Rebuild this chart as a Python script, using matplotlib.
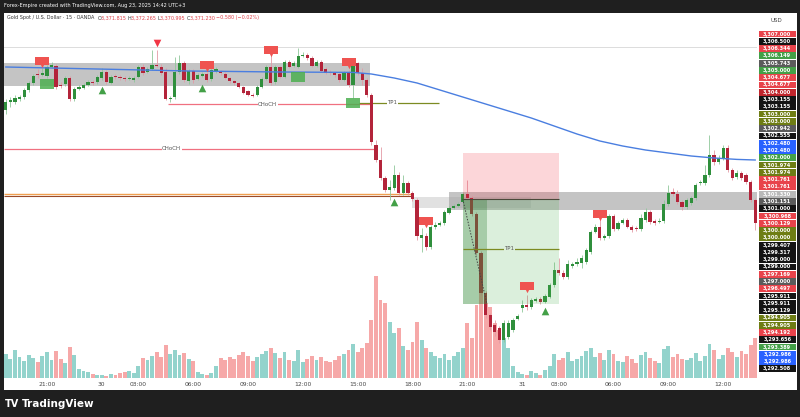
import matplotlib
matplotlib.use("Agg")
import matplotlib.pyplot as plt
from matplotlib.patches import Rectangle
import numpy as np

# ---- 15 min candles (XAUUSD) ----
opens = [
    3303.50, 3303.90, 3303.90, 3304.05, 3304.15, 3304.50, 3304.85, 3305.30, 3305.25, 3305.20,
    3305.65, 3305.70, 3304.75, 3304.80, 3305.10, 3304.05, 3304.55, 3304.60, 3304.75, 3304.90,
    3304.90, 3305.10, 3305.40, 3304.85, 3305.20, 3305.15, 3305.10, 3305.05, 3305.00, 3305.15,
    3305.65, 3305.40, 3305.55, 3305.75, 3305.65, 3305.40, 3304.05, 3304.15, 3305.40, 3305.85,
    3304.95, 3305.45, 3305.05, 3305.20, 3305.30, 3305.05, 3305.45, 3305.45, 3305.30, 3305.10,
    3304.95, 3304.85, 3304.65, 3304.45, 3304.25, 3304.25, 3304.65, 3305.05, 3305.65, 3304.90,
    3305.65, 3305.15, 3305.90, 3305.70, 3305.65, 3306.20, 3306.25, 3306.10, 3305.70, 3305.90,
    3305.55, 3305.40, 3305.35, 3305.30, 3305.00, 3305.40, 3304.75, 3305.85, 3305.35, 3305.00,
    3304.25, 3301.75, 3301.00, 3300.10, 3299.50, 3299.60, 3300.25, 3299.35, 3299.85, 3299.35,
    3299.00, 3297.10, 3297.20, 3296.65, 3297.65, 3297.75, 3297.85, 3298.35, 3298.60, 3298.70,
    3298.90, 3299.30, 3299.10, 3298.30, 3296.35, 3294.35, 3293.25, 3292.75, 3292.60, 3292.00,
    3292.15, 3292.50, 3293.05, 3293.60, 3293.75, 3293.65, 3293.95, 3294.05, 3293.90, 3294.15,
    3294.75, 3295.50, 3295.35, 3295.15, 3295.70, 3295.80, 3295.85, 3295.90, 3296.40, 3297.40,
    3297.65, 3297.10, 3297.20, 3298.20, 3297.55, 3297.85, 3298.00, 3297.65, 3297.60, 3297.55,
    3298.00, 3298.40, 3297.95, 3297.90, 3297.95, 3298.80, 3299.40, 3299.30, 3298.90, 3298.65,
    3298.85, 3299.10, 3299.85, 3299.85, 3300.25, 3301.25, 3300.90, 3301.10, 3301.60, 3300.50,
    3300.15, 3300.35, 3300.25, 3299.90, 3299.00,
]
highs = [
    3304.05, 3304.15, 3304.25, 3304.25, 3304.60, 3304.95, 3305.30, 3305.55, 3305.60, 3305.75,
    3305.90, 3305.80, 3304.90, 3305.20, 3305.20, 3304.65, 3304.75, 3304.85, 3305.00, 3305.00,
    3305.25, 3305.60, 3305.50, 3305.25, 3305.30, 3305.25, 3305.20, 3305.20, 3305.20, 3305.75,
    3305.80, 3305.65, 3306.50, 3306.50, 3305.80, 3305.60, 3304.20, 3306.15, 3306.25, 3305.95,
    3305.55, 3305.55, 3305.35, 3305.40, 3305.40, 3305.60, 3305.65, 3305.50, 3305.40, 3305.15,
    3305.00, 3304.90, 3304.70, 3304.50, 3304.35, 3304.75, 3305.15, 3305.75, 3306.35, 3305.75,
    3305.70, 3306.00, 3306.00, 3305.95, 3306.60, 3306.40, 3306.35, 3306.20, 3306.00, 3306.00,
    3305.65, 3305.50, 3305.40, 3305.40, 3305.45, 3305.50, 3306.00, 3305.90, 3305.60, 3305.10,
    3304.35, 3302.00, 3301.65, 3300.20, 3300.00, 3300.75, 3300.40, 3300.25, 3299.95, 3299.45,
    3299.10, 3297.60, 3297.35, 3297.75, 3297.90, 3297.95, 3298.50, 3298.70, 3298.80, 3298.90,
    3299.40, 3300.00, 3299.20, 3298.40, 3296.45, 3294.45, 3293.35, 3293.00, 3292.70, 3293.00,
    3293.00, 3293.10, 3293.30, 3294.00, 3294.25, 3294.10, 3294.15, 3294.15, 3294.30, 3294.85,
    3295.90, 3296.10, 3295.50, 3296.00, 3295.90, 3296.10, 3296.25, 3296.60, 3297.50, 3297.80,
    3298.10, 3297.30, 3298.30, 3298.30, 3297.95, 3298.10, 3298.10, 3297.75, 3297.70, 3298.30,
    3298.60, 3298.50, 3298.05, 3298.10, 3299.00, 3299.75, 3299.60, 3299.50, 3299.00, 3299.10,
    3299.20, 3299.85, 3300.00, 3300.75, 3302.25, 3301.50, 3301.25, 3301.75, 3301.75, 3300.60,
    3300.50, 3300.45, 3300.35, 3300.00, 3299.10,
]
lows = [
    3303.30, 3303.65, 3303.80, 3303.95, 3304.05, 3304.40, 3304.75, 3305.10, 3305.20, 3305.10,
    3305.60, 3304.55, 3304.60, 3304.70, 3303.95, 3303.95, 3304.50, 3304.55, 3304.70, 3304.75,
    3304.80, 3305.00, 3304.80, 3304.80, 3305.05, 3305.00, 3304.95, 3305.00, 3304.90, 3305.10,
    3305.25, 3305.35, 3305.50, 3305.65, 3305.25, 3304.00, 3303.90, 3304.05, 3305.30, 3304.90,
    3304.80, 3304.85, 3305.00, 3305.15, 3304.90, 3304.95, 3305.35, 3305.25, 3305.05, 3304.85,
    3304.75, 3304.60, 3304.30, 3304.20, 3304.15, 3304.20, 3304.60, 3305.00, 3304.75, 3304.80,
    3305.10, 3305.10, 3305.60, 3305.65, 3305.60, 3306.15, 3306.00, 3305.65, 3305.65, 3305.40,
    3305.30, 3305.25, 3305.15, 3304.90, 3304.95, 3304.65, 3304.10, 3305.25, 3304.75, 3304.15,
    3301.75, 3300.90, 3300.00, 3299.40, 3299.00, 3299.50, 3299.25, 3299.25, 3299.25, 3298.95,
    3297.00, 3296.40, 3296.50, 3296.55, 3297.55, 3297.70, 3297.75, 3298.30, 3298.55, 3298.65,
    3298.85, 3299.00, 3298.20, 3296.25, 3294.25, 3293.10, 3292.50, 3292.20, 3291.85, 3291.90,
    3292.05, 3292.40, 3293.00, 3293.40, 3293.50, 3293.55, 3293.90, 3293.80, 3293.85, 3294.10,
    3294.65, 3295.25, 3295.05, 3295.05, 3295.60, 3295.70, 3295.60, 3295.80, 3296.30, 3297.35,
    3297.00, 3297.00, 3297.10, 3297.45, 3297.50, 3297.80, 3297.60, 3297.40, 3297.45, 3297.45,
    3297.90, 3297.80, 3297.75, 3297.85, 3297.85, 3298.70, 3299.20, 3298.80, 3298.50, 3298.55,
    3298.75, 3299.00, 3299.75, 3299.75, 3300.15, 3300.75, 3300.80, 3301.00, 3300.40, 3300.00,
    3300.05, 3300.00, 3299.80, 3298.90, 3297.50,
]
closes = [
    3303.90, 3304.00, 3304.10, 3304.15, 3304.50, 3304.85, 3305.20, 3305.25, 3305.35, 3305.65,
    3305.75, 3304.65, 3304.70, 3305.10, 3304.05, 3304.55, 3304.65, 3304.75, 3304.90, 3304.85,
    3305.15, 3305.40, 3304.90, 3305.15, 3305.15, 3305.10, 3305.05, 3305.10, 3305.10, 3305.65,
    3305.35, 3305.55, 3305.75, 3305.70, 3305.35, 3304.05, 3304.10, 3305.40, 3305.85, 3305.00,
    3305.45, 3305.00, 3305.25, 3305.30, 3305.00, 3305.50, 3305.55, 3305.35, 3305.10, 3304.95,
    3304.85, 3304.65, 3304.35, 3304.25, 3304.20, 3304.65, 3305.05, 3305.65, 3304.85, 3305.65,
    3305.15, 3305.90, 3305.65, 3305.85, 3306.20, 3306.25, 3306.10, 3305.70, 3305.90, 3305.45,
    3305.35, 3305.35, 3305.25, 3305.00, 3305.35, 3304.75, 3305.85, 3305.35, 3305.00, 3304.25,
    3301.90, 3301.00, 3300.10, 3299.50, 3299.65, 3300.25, 3299.35, 3299.85, 3299.35, 3299.05,
    3297.20, 3297.25, 3296.65, 3297.65, 3297.75, 3297.85, 3298.40, 3298.60, 3298.70, 3298.80,
    3299.30, 3299.10, 3298.30, 3296.35, 3294.35, 3293.25, 3292.65, 3292.40, 3292.00, 3292.85,
    3292.85, 3293.00, 3293.20, 3293.75, 3293.65, 3294.00, 3294.05, 3293.90, 3294.20, 3294.75,
    3295.50, 3295.35, 3295.15, 3295.80, 3295.80, 3295.90, 3296.10, 3296.50, 3297.40, 3297.65,
    3297.10, 3297.20, 3298.20, 3297.55, 3297.85, 3298.00, 3297.65, 3297.50, 3297.55, 3298.10,
    3298.40, 3297.90, 3297.85, 3297.95, 3298.80, 3299.35, 3299.30, 3298.90, 3298.65, 3299.00,
    3299.10, 3299.75, 3299.90, 3300.25, 3301.25, 3300.90, 3301.10, 3301.60, 3300.50, 3300.10,
    3300.35, 3300.10, 3299.90, 3299.00, 3297.85,
]
volumes = [
    24, 19, 28, 21, 17, 23, 20, 16, 22, 26,
    18, 27, 19, 15, 31, 23, 9, 7, 6, 4,
    3, 3, 2, 4, 3, 5, 6, 7, 5, 12,
    20, 18, 22, 26, 21, 33, 24, 28, 23, 25,
    19, 17, 6, 4, 3, 5, 12, 20, 18, 21,
    19, 23, 26, 22, 17, 21, 24, 27, 30, 25,
    20, 26, 18, 17, 28, 16, 19, 22, 18, 21,
    17, 16, 18, 22, 24, 28, 34, 26, 30, 35,
    58, 102, 78, 75, 56, 45, 50, 32, 28, 36,
    56, 38, 30, 26, 22, 20, 24, 18, 22, 26,
    30, 55, 40, 73, 85, 75, 71, 55, 48, 40,
    30, 12, 6, 4, 3, 7, 5, 3, 8, 12,
    24, 18, 20, 26, 17, 19, 22, 27, 30, 21,
    25, 18, 28, 24, 17, 16, 22, 19, 15, 23,
    26, 20, 17, 15, 29, 32, 21, 24, 19, 18,
    20, 25, 17, 22, 34, 28, 19, 23, 30, 26,
    21, 27, 24, 33, 40,
]

# moving average read at a few bars
ema_bars = [0, 20, 40, 60, 76, 80, 85, 90, 95, 100, 105, 110, 115, 120,
            125, 130, 135, 140, 145, 150, 155, 160, 164]
ema_vals = [3305.65, 3305.55, 3305.45, 3305.40, 3305.38, 3305.30, 3305.10, 3304.85,
            3304.50, 3304.15, 3303.80, 3303.45, 3303.10, 3302.70, 3302.30, 3301.95,
            3301.70, 3301.50, 3301.35, 3301.20, 3301.10, 3301.03, 3301.00]

tick_bars = [9, 21, 29, 41, 53, 65, 77, 89, 101, 113, 121, 133, 145, 157]
tick_labels = ["21:00", "30", "03:00", "06:00", "09:00", "12:00", "15:00",
               "18:00", "21:00", "31", "03:00", "06:00", "09:00", "12:00"]

# signals
sell_bars = [8, 44, 58, 75, 92, 114, 130]
sell_prices = [3305.95, 3305.75, 3306.50, 3305.90, 3297.95, 3294.70, 3298.30]
buy_bars = [9, 64, 76]
buy_prices = [3304.80, 3305.15, 3303.85]
up_bars = [21, 43, 85, 118]
up_prices = [3304.50, 3304.60, 3298.90, 3293.45]
down_bars = [33]
down_prices = [3306.85]

# right scale labels (stacked as in the screenshot)
R, K, G, D, O, B, DR, L = ("#e8434b", "#141414", "#43a047", "#5b5b5b",
                           "#6e7d14", "#2962ff", "#c0262d", "#b9b9b9")
scale_labels = [
    ("3,307.000", R), ("3,306.500", K), ("3,306.344", R), ("3,306.149", G),
    ("3,305.743", D), ("3,305.000", G), ("3,304.677", R), ("3,304.677", R),
    ("3,304.000", DR), ("3,303.155", K), ("3,303.155", K), ("3,303.000", O),
    ("3,303.000", O), ("3,302.942", D), ("3,302.555", K), ("3,302.480", B),
    ("3,302.480", B), ("3,302.000", G), ("3,301.974", O), ("3,301.974", O),
    ("3,301.761", R), ("3,301.761", R), ("3,301.330", L), ("3,301.151", D),
    ("3,301.000", K), ("3,300.968", R), ("3,300.129", R), ("3,300.000", O),
    ("3,300.000", O), ("3,299.407", K), ("3,299.317", K), ("3,299.000", K),
    ("3,299.000", K), ("3,297.169", R), ("3,297.000", D), ("3,296.497", R),
    ("3,295.911", K), ("3,295.911", K), ("3,295.129", K), ("3,294.905", O),
    ("3,294.905", O), ("3,294.192", R), ("3,293.656", K), ("3,293.389", G),
    ("3,292.986", B), ("3,292.986", B), ("3,292.508", K),
]

# legend pieces: (text, colour)
legend_parts = [
    ("Gold Spot / U.S. Dollar · 15 · OANDA  ", "#333333"),
    ("O", "#333333"), ("3,371.815 ", "#e0434b"),
    ("H", "#333333"), ("3,372.265 ", "#e0434b"),
    ("L", "#333333"), ("3,370.995 ", "#e0434b"),
    ("C", "#333333"), ("3,371.230 ", "#e0434b"),
    ("−0.580 (−0.02%)", "#e0434b"),
]

UP, DOWN = "#2f8f3c", "#b3243a"
UP_WICK, DOWN_WICK = "#8fc79a", "#e39aa5"
VOL_UP, VOL_DOWN = "#93d3cc", "#f6a8a8"
W, H = 800, 417


def fx(x):
    return x / W


def fy(y):
    return 1 - y / H


fig = plt.figure(figsize=(8, 4.17), dpi=100, facecolor="#1f1f1f")
fig.patches.append(Rectangle((fx(4), fy(390)), fx(793), 377 / H,
                             transform=fig.transFigure, facecolor="white",
                             edgecolor="none", zorder=0))

pos = [fx(4), fy(378), fx(753), 365 / H]
vax = fig.add_axes(pos, zorder=1)
ax = fig.add_axes(pos, zorder=2)
for a in (vax, ax):
    a.patch.set_alpha(0)
    for s in a.spines.values():
        s.set_visible(False)

x = np.arange(len(closes))
o = np.array(opens)
c = np.array(closes)
h = np.array(highs)
l = np.array(lows)
up = c >= o

# volume
vax.bar(x, volumes, width=0.85, color=np.where(up, VOL_UP, VOL_DOWN), linewidth=0)
vax.set_ylim(0, 365)
vax.set_xlim(-0.4, 164.4)
vax.axis("off")

# zones behind candles
ax.add_patch(Rectangle((-0.4, 3304.70), 80.0, 1.15, facecolor="#9e9e9e",
                       alpha=0.6, edgecolor="none", zorder=1))
ax.add_patch(Rectangle((97.1, 3298.50), 67.3, 0.90, facecolor="#9e9e9e",
                       alpha=0.6, edgecolor="none", zorder=1))
ax.add_patch(Rectangle((88.8, 3298.60), 26.2, 0.55, facecolor="#9e9e9e",
                       alpha=0.3, edgecolor="none", zorder=1))

# horizontal levels
ax.axhline(3306.65, color="#dcdcdc", lw=0.7, zorder=1)
ax.hlines(3303.80, 35.5, 80, color="#f07080", lw=0.9, zorder=2)
ax.text(57.3, 3303.80, "CHoCH", fontsize=4, color="#555555", ha="center",
        va="center", zorder=6,
        bbox=dict(facecolor="white", edgecolor="none", pad=0.4))
ax.hlines(3303.85, 77.4, 94.9, color="#7c8b22", lw=0.9, zorder=2)
ax.text(84.6, 3303.85, "TP1", fontsize=4, color="#555555", ha="center",
        va="center", zorder=6,
        bbox=dict(facecolor="white", edgecolor="none", pad=0.4))
ax.hlines(3301.55, -0.4, 80.7, color="#f07080", lw=0.9, zorder=2)
ax.text(36.3, 3301.55, "CHoCH", fontsize=4, color="#555555", ha="center",
        va="center", zorder=6,
        bbox=dict(facecolor="white", edgecolor="none", pad=0.4))
ax.hlines(3299.29, -0.4, 89, color="#f0a050", lw=1.0, zorder=2)
ax.hlines(3299.20, -0.4, 89, color="#9a4a2a", lw=0.8, zorder=2)

# candles
ax.vlines(x, l, h, colors=np.where(up, UP_WICK, DOWN_WICK), lw=0.6, zorder=3)
ax.bar(x, np.maximum(np.abs(c - o), 0.03), bottom=np.minimum(o, c), width=0.7,
       color=np.where(up, UP, DOWN), linewidth=0, zorder=4)

# moving average
ax.plot(ema_bars, ema_vals, color="#4a7ee0", lw=1.0, zorder=5)

# short position tool
ax.add_patch(Rectangle((100, 3299.05), 21.1, 2.30, facecolor="#f23645",
                       alpha=0.2, edgecolor="none", zorder=5))
ax.add_patch(Rectangle((100, 3293.80), 21.1, 5.25, facecolor="#4caf50",
                       alpha=0.2, edgecolor="none", zorder=5))
ax.add_patch(Rectangle((100, 3293.80), 5.3, 5.25, facecolor="#2e7d32",
                       alpha=0.3, edgecolor="none", zorder=5))
ax.hlines(3299.05, 100, 121.1, color="#4a4a3a", lw=0.8, zorder=6)
ax.hlines(3296.55, 100, 121.1, color="#7c8b22", lw=0.9, zorder=6)
ax.text(110.2, 3296.55, "TP1", fontsize=4, color="#555555", ha="center",
        va="center", zorder=7,
        bbox=dict(facecolor="#dcefdc", edgecolor="none", pad=0.4))
ax.plot([100, 105.3], [3299.05, 3293.80], color="#444444", lw=0.7,
        ls=(0, (1.5, 1.5)), zorder=6)

# signal labels
box = [(-1.6, -1), (1.6, -1), (1.6, 1), (-1.6, 1), (-1.6, -1)]
ax.scatter(sell_bars, sell_prices, marker=box, s=95, color="#ef5350",
           linewidths=0, zorder=8)
ax.scatter(sell_bars, np.array(sell_prices) - 0.24, marker="v", s=6,
           color="#ef5350", linewidths=0, zorder=8)
ax.scatter(buy_bars, buy_prices, marker=box, s=110, color="#4caf50",
           alpha=0.85, linewidths=0, zorder=8)
ax.scatter(up_bars, up_prices, marker="^", s=30, color="#43a047",
           linewidths=0, zorder=8)
ax.scatter(down_bars, down_prices, marker="v", s=30, color="#f23645",
           linewidths=0, zorder=8)

ax.set_xlim(-0.4, 164.4)
ax.set_ylim(3290.1, 3308.35)
ax.set_yticks([])
ax.set_xticks(tick_bars, tick_labels)
ax.tick_params(axis="x", length=0, labelsize=4.3, colors="#444444", pad=3)

# right price scale
pax = fig.add_axes([fx(757), 0, fx(43), 1], zorder=3)
pax.set_xlim(757, 800)
pax.set_ylim(H, 0)
pax.axis("off")
for i, (txt, col) in enumerate(scale_labels):
    yc = 34 + 7.28 * i
    pax.add_patch(Rectangle((758.5, yc - 3.4), 37.5, 6.8, facecolor=col,
                            edgecolor="none"))
    pax.text(777.2, yc, txt, fontsize=3.6, color="white", ha="center",
             va="center", fontweight="bold")
pax.text(776, 20, "USD", fontsize=4, color="#444444", ha="center", va="center")

# header, legend and footer
fig.text(fx(4), fy(6), "Forex-Empire created with TradingView.com, Aug 23, 2025 14:42 UTC+3",
         fontsize=3.6, color="white", va="center")
prev = fig.text(fx(7), fy(18), legend_parts[0][0], fontsize=3.5,
                color=legend_parts[0][1], va="center")
for txt, col in legend_parts[1:]:
    # chain each piece right after the previous one
    prev = ax.annotate(txt, xy=(1, 0), xycoords=prev, xytext=(0, 0),
                       textcoords="offset points", fontsize=3.5, color=col,
                       va="bottom", annotation_clip=False)
fig.text(fx(5), fy(404), "TV", fontsize=7, color="white", fontweight="bold",
         va="center")
fig.text(fx(22), fy(404), "TradingView", fontsize=7.5, color="white",
         fontweight="bold", va="center")

fig.savefig("out.png", dpi=100, facecolor=fig.get_facecolor())
plt.close(fig)
